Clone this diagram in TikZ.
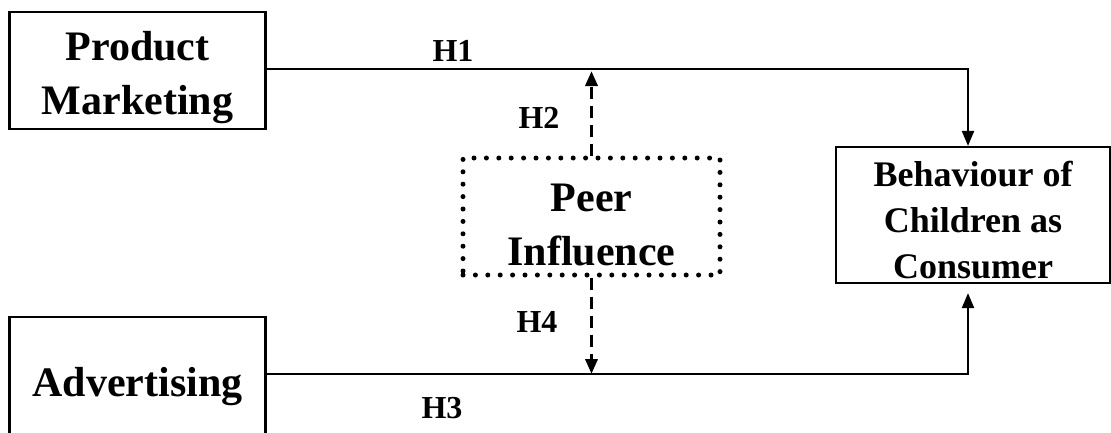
\documentclass[tikz,border=0pt]{standalone}
\usepackage{fontspec}
\setmainfont{Liberation Serif}
\usetikzlibrary{arrows.meta}

\begin{document}
\begin{tikzpicture}[x=1pt, y=-1pt,
    box/.style={draw, line width=2.2pt, align=center, inner sep=0pt,
        font=\bfseries\fontsize{42}{54}\selectfont},
    link/.style={line width=2.2pt, -{Triangle[length=15pt, width=12pt]}},
    dashlink/.style={line width=3.5pt, dash pattern=on 12pt off 7pt,
        -{Triangle[length=15pt, width=12pt]}},
    hlabel/.style={font=\bfseries\fontsize{32}{38}\selectfont}]
    \useasboundingbox (0,0) rectangle (1111,432);
    % boxes
    \node[box, minimum width=256pt, minimum height=117pt] (pm) at (137.5,70.5) {\rule{0pt}{43pt}Product\\Marketing};
    \node[box, minimum width=256pt, minimum height=140pt] (adv) at (137.5,387) {Advertising};
    \node[box, line width=5pt, dash pattern=on 0pt off 12.4pt, line cap=round,
        minimum width=257pt, minimum height=117pt] (peer) at (591.5,216.5) {\rule{0pt}{45pt}Peer\\Influence};
    \node[box, minimum width=274pt, minimum height=136pt,
        font=\bfseries\fontsize{36}{46}\selectfont] (beh) at (973,215) {\rule{0pt}{36pt}Behaviour of\\Children as\\Consumer};
    % connectors
    \coordinate (t1) at (968,69);
    \coordinate (t3) at (968,374);
    \draw[link] (pm.east |- t1) -- (t1) -- (t1 |- beh.north);
    \draw[link] (adv.east |- t3) -- (t3) -- ([yshift=-9pt]t3 |- beh.south);
    \draw[dashlink] (peer.north) -- ([yshift=-2pt]peer.north |- t1);
    \draw[dashlink] (peer.south) -- (peer.south |- t3);
    % labels
    \node[hlabel] (h1) at (453,51) {H1};
    \node[hlabel] (h2) at (539,118) {H2};
    \node[hlabel] (h3) at (442,408) {H3};
    \node[hlabel] (h4) at (537,322) {H4};
\end{tikzpicture}
\end{document}
